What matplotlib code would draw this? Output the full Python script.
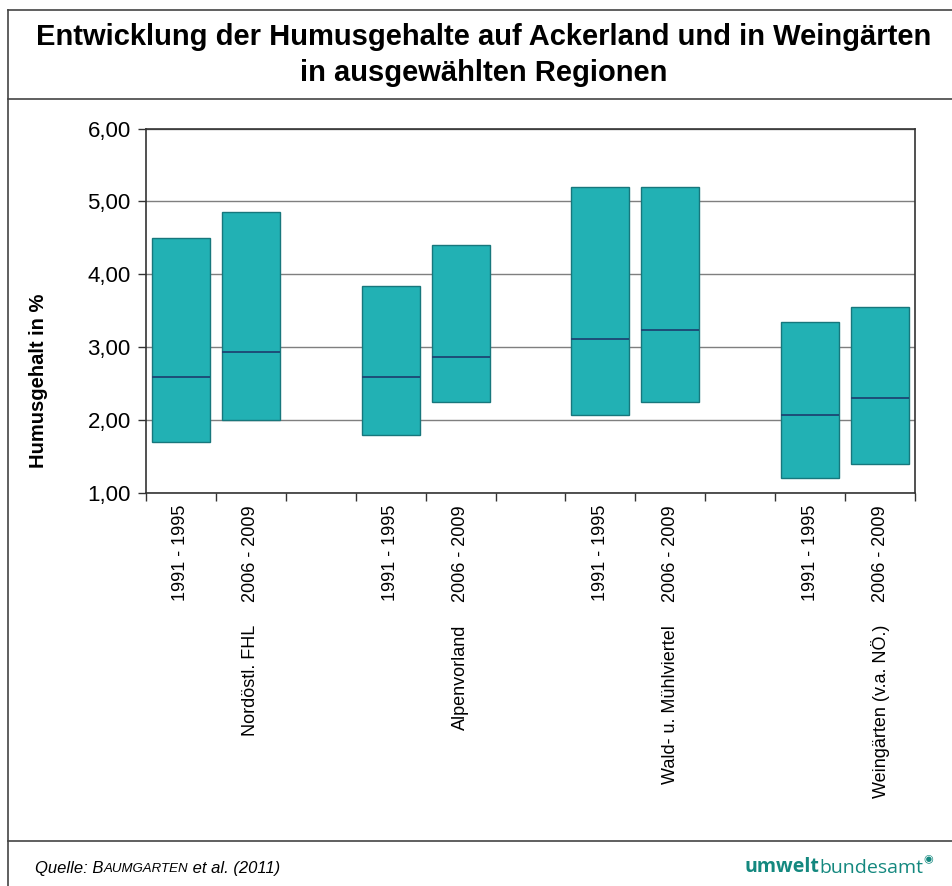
import numpy as np
import matplotlib
matplotlib.use("Agg")
import matplotlib.pyplot as plt
from matplotlib.lines import Line2D
from matplotlib.transforms import blended_transform_factory

plt.rcParams["font.family"] = ["Liberation Sans", "DejaVu Sans"]

# data (Humusgehalt in %)
regions = ["Nordöstl. FHL", "Alpenvorland", "Wald- u. Mühlviertel", "Weingärten (v.a. NÖ.)"]
periods = ["1991 - 1995", "2006 - 2009"]
low = [1.70, 2.00, 1.80, 2.25, 2.07, 2.25, 1.21, 1.40]
high = [4.50, 4.85, 3.84, 4.40, 5.20, 5.20, 3.35, 3.56]
median = [2.60, 2.93, 2.60, 2.87, 3.12, 3.24, 2.08, 2.30]
yticks = [1, 2, 3, 4, 5, 6]

FILL = "#22b1b4"
EDGE = "#17777c"
MED = "#1d3c6e"

W, H = 953, 886
fig = plt.figure(figsize=(W / 100, H / 100), dpi=100)

# slots: two bars per region, one empty slot between regions
slots = []
for g in range(len(regions)):
    slots += [g * 3, g * 3 + 1]
slots = np.array(slots)

ax = fig.add_axes([146 / W, 1 - 493.3 / H, (915 - 146) / W, (493.3 - 128.5) / H])
bw = 0.83
ax.bar(slots, np.array(high) - np.array(low), bottom=low, width=bw,
       color=FILL, edgecolor=EDGE, linewidth=1.0, zorder=3)
ax.hlines(median, slots - bw / 2, slots + bw / 2, colors=MED, linewidth=1.2, zorder=4)

ax.set_xlim(-0.5, 10.5)
ax.set_ylim(1, 6)
ax.set_yticks(yticks)
ax.set_yticklabels([f"{v:.2f}".replace(".", ",") for v in yticks], fontsize=16)
ax.set_xticks(np.arange(-0.5, 11, 1))
ax.set_xticklabels([])
ax.tick_params(axis="both", direction="out", length=6, width=1, color="#333333", pad=5)
ax.grid(axis="y", color="#7f7f7f", linewidth=1.0, zorder=0)
ax.set_axisbelow(True)
for s in ax.spines.values():
    s.set_color("#333333")
    s.set_linewidth(1.2)

# y label
fig.text(39 / W, 1 - 381 / H, "Humusgehalt in %", rotation=90, ha="center", va="center",
         fontsize=14.5, fontweight="bold")

# category labels
tr = blended_transform_factory(ax.transData, fig.transFigure)
for i, x in enumerate(slots):
    fig.text(x, 1 - 505 / H, periods[i % 2], rotation=90, ha="center", va="top",
             fontsize=13, transform=tr)
for g, name in enumerate(regions):
    fig.text(g * 3 + 1, 1 - 625 / H, name, rotation=90, ha="center", va="top",
             fontsize=13, transform=tr)

# title
fig.text(484 / W, 1 - 37 / H, "Entwicklung der Humusgehalte auf Ackerland und in Weingärten",
         ha="center", va="center", fontsize=21, fontweight="bold")
fig.text(484 / W, 1 - 73 / H, "in ausgewählten Regionen",
         ha="center", va="center", fontsize=21, fontweight="bold")

# frame lines
lc = "#444444"
fig.add_artist(Line2D([8 / W, 1], [1 - 10 / H, 1 - 10 / H], color=lc, lw=1.2, transform=fig.transFigure))
fig.add_artist(Line2D([8 / W, 8 / W], [1 - 10 / H, 0], color=lc, lw=1.2, transform=fig.transFigure))
fig.add_artist(Line2D([8 / W, 1], [1 - 99 / H, 1 - 99 / H], color=lc, lw=1.2, transform=fig.transFigure))
fig.add_artist(Line2D([8 / W, 1], [1 - 841 / H, 1 - 841 / H], color=lc, lw=1.2, transform=fig.transFigure))

# source with small caps
t1 = fig.text(35 / W, 1 - 868 / H, "Quelle: B", fontsize=12, style="italic", va="center")
a2 = fig.add_artist(plt.Annotation("AUMGARTEN", xy=(1, 0), xycoords=t1, fontsize=9.5,
                                   style="italic", va="bottom", ha="left"))
fig.add_artist(plt.Annotation(" et al. (2011)", xy=(1, 0), xycoords=a2, fontsize=12,
                              style="italic", va="bottom", ha="left"))

# logo
teal = "#14887f"
l1 = fig.text(745 / W, 1 - 867 / H, "umwelt", fontsize=14, fontweight="bold", color=teal,
              va="center", family="Open Sans")
l2 = fig.add_artist(plt.Annotation("bundesamt", xy=(1, 0), xycoords=l1, fontsize=14,
                                   color=teal, va="bottom", ha="left", family="Open Sans"))
fig.add_artist(plt.Annotation("\u25c9", xy=(1, 0.7), xycoords=l2, fontsize=8,
                              color=teal, va="bottom", ha="left", family="DejaVu Sans"))

fig.savefig("out.png", dpi=100)
